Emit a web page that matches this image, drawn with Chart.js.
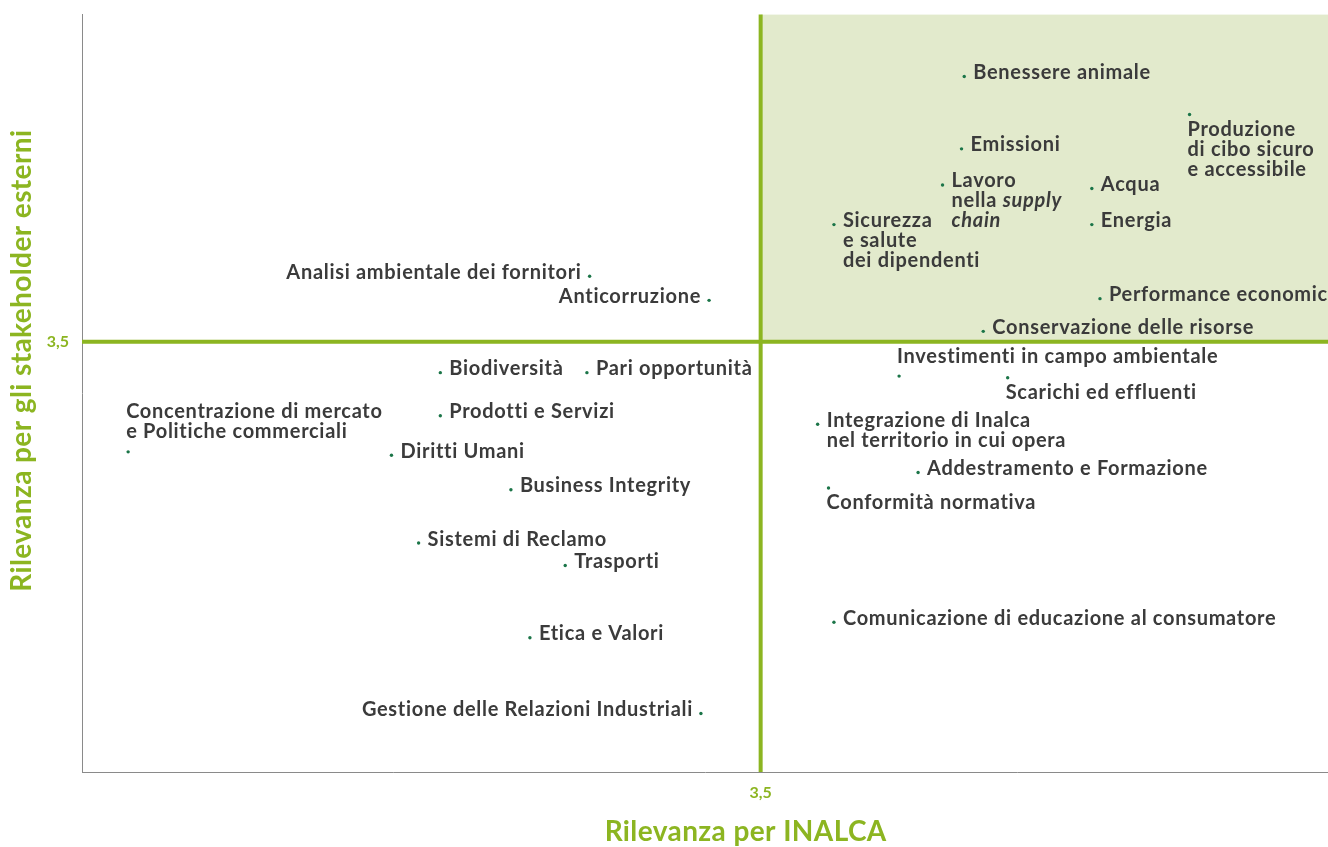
<!DOCTYPE html>
<html>
<head>
<meta charset="utf-8">
<script src="https://cdn.jsdelivr.net/npm/chart.js@4/dist/chart.umd.min.js"></script>
<style>
  html, body { margin: 0; padding: 0; background: #fff; }
  #wrap { width: 1328px; height: 847px; }
</style>
</head>
<body>
<div id="wrap"><canvas id="matrice"></canvas></div>
<script>
// === dati della matrice di materialità
var temi = [
  "Benessere animale",
  "Produzione|di cibo sicuro|e accessibile",
  "Emissioni",
  "Lavoro|nella _supply_|_chain_",
  "Acqua",
  "Energia",
  "Sicurezza|e salute|dei dipendenti",
  "Performance economica",
  "Conservazione delle risorse",
  "Analisi ambientale dei fornitori",
  "Anticorruzione",
  "Investimenti in campo ambientale",
  "Scarichi ed effluenti",
  "Integrazione di Inalca|nel territorio in cui opera",
  "Addestramento e Formazione",
  "Conformità normativa",
  "Comunicazione di educazione al consumatore",
  "Biodiversità",
  "Pari opportunità",
  "Concentrazione di mercato|e Politiche commerciali",
  "Prodotti e Servizi",
  "Diritti Umani",
  "Business Integrity",
  "Sistemi di Reclamo",
  "Trasporti",
  "Etica e Valori",
  "Gestione delle Relazioni Industriali",
];
var rilevanzaInalca = [4.25, 5.08, 4.24, 4.17, 4.72, 4.72, 3.77, 4.75, 4.32, 2.87, 3.31, 4.01, 4.41, 3.71,
  4.08, 3.75, 3.77, 2.32, 2.86, 1.17, 2.32, 2.14, 2.58, 2.24, 2.78, 2.65, 3.28];
var rilevanzaStakeholder = [5.04, 4.82, 4.62, 4.41, 4.39, 4.18, 4.18, 3.75, 3.56, 3.88, 3.74, 3.30, 3.29, 3.02,
  2.74, 2.65, 1.87, 3.32, 3.32, 2.86, 3.07, 2.84, 2.64, 2.33, 2.20, 1.78, 1.34];
var soglia = 3.5;
var tickLabels = ["3,5"];

// posizione etichetta rispetto al punto: r destra, l sinistra, a sopra, b sotto
var posEtichetta = ["r", "b", "r", "r", "r", "r", "r", "r", "r", "l", "l", "a", "b", "r",
  "r", "b", "r", "r", "r", "a", "r", "r", "r", "r", "r", "r", "l"];

var VERDE = "#8cb521";
var FONT = "Lato, 'Open Sans', sans-serif";

var punti = temi.map(function (t, i) {
  return { x: rilevanzaInalca[i], y: rilevanzaStakeholder[i] };
});

function scriviRiga(ctx, riga, x, y, align) {
  // segmenti in corsivo tra "_"
  var parti = riga.split("_");
  ctx.letterSpacing = "0.7px";
  var larghezze = parti.map(function (p, k) {
    ctx.font = (k % 2 ? "italic " : "") + "bold 20px " + FONT;
    return ctx.measureText(p).width;
  });
  var tot = larghezze.reduce(function (a, b) { return a + b; }, 0);
  var cx = align === "right" ? x - tot : x;
  ctx.textAlign = "left";
  parti.forEach(function (p, k) {
    ctx.font = (k % 2 ? "italic " : "") + "bold 20px " + FONT;
    ctx.fillText(p, cx, y);
    cx += larghezze[k];
  });
}

var quadranti = {
  id: "quadranti",
  beforeDatasetsDraw: function (chart) {
    var ctx = chart.ctx, a = chart.chartArea;
    var sx = chart.scales.x.getPixelForValue(soglia);
    var sy = chart.scales.y.getPixelForValue(soglia);
    ctx.save();
    ctx.fillStyle = "#e2eacc";
    ctx.fillRect(sx, a.top, a.right - sx, sy - a.top);
    ctx.strokeStyle = VERDE;
    ctx.lineWidth = 4;
    ctx.beginPath();
    ctx.moveTo(a.left, sy);
    ctx.lineTo(a.right, sy);
    ctx.moveTo(sx, a.top);
    ctx.lineTo(sx, a.bottom);
    ctx.stroke();
    ctx.restore();
  },
  afterDatasetsDraw: function (chart) {
    var ctx = chart.ctx;
    var meta = chart.getDatasetMeta(0);
    ctx.save();
    ctx.fillStyle = "#3b3b3b";
    ctx.textBaseline = "middle";
    meta.data.forEach(function (el, i) {
      var righe = temi[i].split("|");
      var pos = posEtichetta[i];
      righe.forEach(function (r, k) {
        if (pos === "r") scriviRiga(ctx, r, el.x + 9, el.y - 4 + k * 20, "left");
        else if (pos === "l") scriviRiga(ctx, r, el.x - 8, el.y - 4 + k * 20, "right");
        else if (pos === "b") scriviRiga(ctx, r, el.x - 2, el.y + 15 + k * 20, "left");
        else scriviRiga(ctx, r, el.x - 2, el.y - 20 - (righe.length - 1 - k) * 20, "left");
      });
    });
    // titoli degli assi
    ctx.fillStyle = VERDE;
    ctx.letterSpacing = "0.4px";
    ctx.font = "bold 28px " + FONT;
    ctx.textAlign = "center";
    ctx.fillText("Rilevanza per INALCA", chart.scales.x.getPixelForValue(soglia) - 15, 832);
    ctx.translate(22, chart.scales.y.getPixelForValue(soglia) + 19);
    ctx.rotate(-Math.PI / 2);
    ctx.fillText("Rilevanza per gli stakeholder esterni", 0, 0);
    ctx.restore();
  },
};

var chMatrice = document.getElementById("matrice").getContext("2d");

var myChartMatrice = new Chart(chMatrice, {
  type: "scatter",
  plugins: [quadranti],
  data: {
    datasets: [
      {
        label: "Temi materiali",
        data: punti,
        pointRadius: 1.7,
        pointHoverRadius: 1.7,
        pointBorderWidth: 0,
        pointBackgroundColor: "#1b7548",
      },
    ],
  },
  options: {
    responsive: true,
    maintainAspectRatio: false,
    animation: false,
    layout: { autoPadding: false, padding: { top: 13, right: 0, left: 0, bottom: 0 } },
    plugins: {
      legend: { display: false },
      tooltip: { enabled: false },
    },
    scales: {
      x: {
        min: 1,
        max: 5.59,
        afterBuildTicks: function (scale) { scale.ticks = [{ value: soglia }]; },
        afterFit: function (scale) { scale.height = 75; },
        ticks: {
          padding: 3,
          color: VERDE,
          font: { family: FONT, size: 16, weight: "bold" },
          callback: function () { return tickLabels[0]; },
        },
        grid: { display: false },
        border: { display: true, color: "#8a8a8a", width: 1 },
      },
      y: {
        min: 1,
        max: 5.4,
        afterBuildTicks: function (scale) { scale.ticks = [{ value: soglia }]; },
        afterFit: function (scale) { scale.width = 82; },
        ticks: {
          padding: 5,
          color: VERDE,
          font: { family: FONT, size: 16, weight: "bold" },
          callback: function () { return tickLabels[0]; },
        },
        grid: { display: false },
        border: { display: true, color: "#8a8a8a", width: 1 },
      },
    },
  },
});
</script>
</body>
</html>
